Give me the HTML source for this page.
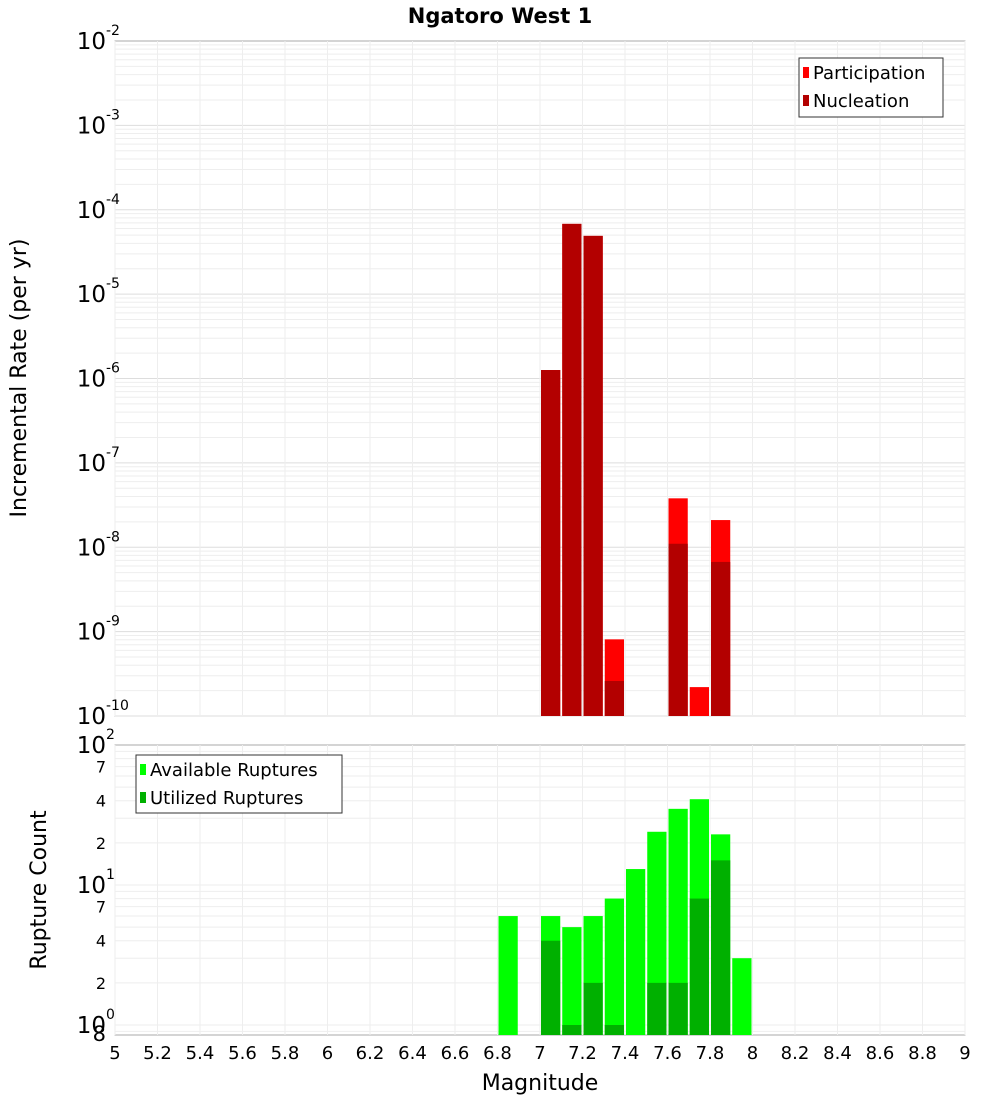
<!DOCTYPE html>
<html><head><meta charset="utf-8"><style>
body{margin:0;background:#fff;font-family:"Liberation Sans","DejaVu Sans",sans-serif}
svg text{font-family:"DejaVu Sans","Liberation Sans",sans-serif}
</style></head><body>
<svg id="chart" width="1000" height="1100" xmlns="http://www.w3.org/2000/svg">
<text x="500" y="23" text-anchor="middle" font-size="21" font-weight="bold">Ngatoro West 1</text>
<g id="topG"></g><g id="botG"></g>
<text transform="translate(26,378) rotate(-90)" text-anchor="middle" font-size="22">Incremental Rate (per yr)</text>
<text transform="translate(46,890) rotate(-90)" text-anchor="middle" font-size="22">Rupture Count</text>
<text x="540" y="1090" text-anchor="middle" font-size="22">Magnitude</text>
</svg>
<script>
const mags=[7.0,7.1,7.2,7.3,7.6,7.7,7.8];
const participation=[1.26e-6,6.8e-5,4.9e-5,8.1e-10,3.8e-8,2.2e-10,2.1e-8];
const nucleation=[1.26e-6,6.8e-5,4.9e-5,2.6e-10,1.1e-8,0,6.7e-9];
const countMags=[6.8,7.0,7.1,7.2,7.3,7.4,7.5,7.6,7.7,7.8,7.9];
const available=[6,6,5,6,8,13,24,35,41,23,3];
const utilized=[0,4,1,2,1,0,2,2,8,15,0];
const xTicks=[5,5.2,5.4,5.6,5.8,6,6.2,6.4,6.6,6.8,7,7.2,7.4,7.6,7.8,8,8.2,8.4,8.6,8.8,9];
const topDecades=[-2,-3,-4,-5,-6,-7,-8,-9,-10];
const botLabels=[[100,"10","2"],[70,"7"],[40,"4"],[20,"2"],[10,"10","1"],[7,"7"],[4,"4"],[2,"2"],[1,"10","0"],[0.85,"8"]];
const NS="http://www.w3.org/2000/svg";
const L=115,R=965;
const xs=m=>L+(m-5)*(R-L)/4;
const T1=41,B1=716,ty=v=>T1+(-2-Math.log10(v))*(B1-T1)/8;
const T2=745,B2=1035,by=v=>T2+(2-Math.log10(v))*140;
function el(p,t,a,txt){const e=document.createElementNS(NS,t);for(const k in a)e.setAttribute(k,a[k]);if(txt!==undefined)e.textContent=txt;p.appendChild(e);return e;}
const topG=document.getElementById('topG'),botG=document.getElementById('botG');
let r=el(topG,'rect',{x:L,y:T1,width:R-L,height:B1-T1,fill:'#fff',stroke:'#aaa'});


for(let d=-10;d<-2;d++)for(let k=1;k<10;k++){const y=ty(k*Math.pow(10,d));el(topG,'line',{x1:L,x2:R,y1:y,y2:y,stroke:k==1?'#ddd':'#eee','stroke-width':1});}
xTicks.forEach(m=>el(topG,'line',{x1:xs(m),x2:xs(m),y1:T1,y2:B1,stroke:'#eee'}));
topDecades.forEach(d=>{const y=ty(Math.pow(10,d));const g=el(topG,'g',{});


el(g,'text',{x:106,y:y+8,'text-anchor':'end','font-size':23},'10');
el(g,'text',{x:106,y:y-6,'font-size':14},String(d));});
mags.forEach((m,i)=>{const x=xs(m)+1,w=(R-L)/40-2;
let b=el(topG,'rect',{x:x,y:ty(participation[i]),width:w,height:B1-ty(participation[i]),fill:'#ff0000'});


if(nucleation[i]>0){b=el(topG,'rect',{x:x,y:ty(nucleation[i]),width:w,height:B1-ty(nucleation[i]),fill:'#b30000'});

}});
let lg=el(topG,'g',{});


el(lg,'rect',{x:799,y:58,width:144,height:59,fill:'#fff',stroke:'#333'});
el(lg,'rect',{x:803,y:67,width:6,height:11,fill:'#ff0000'});el(lg,'text',{x:813,y:79,'font-size':18},'Participation');
el(lg,'rect',{x:803,y:95,width:6,height:11,fill:'#b30000'});el(lg,'text',{x:813,y:107,'font-size':18},'Nucleation');
r=el(botG,'rect',{x:L,y:T2,width:R-L,height:B2-T2,fill:'#fff',stroke:'#aaa'});


for(let d=0;d<2;d++)for(let k=1;k<10;k++){const y=by(k*Math.pow(10,d));if(y<B2)el(botG,'line',{x1:L,x2:R,y1:y,y2:y,stroke:'#eee'});}
el(botG,'line',{x1:L,x2:R,y1:by(0.9),y2:by(0.9),stroke:'#eee'});
xTicks.forEach(m=>el(botG,'line',{x1:xs(m),x2:xs(m),y1:T2,y2:B2,stroke:'#eee'}));
botLabels.forEach(l=>{const y=by(l[0]);const g=el(botG,'g',{});


if(l.length==3){el(g,'text',{x:106,y:y+8,'text-anchor':'end','font-size':23},l[1]);el(g,'text',{x:106,y:y-6,'font-size':14},l[2]);}
else el(g,'text',{x:106,y:y+6,'text-anchor':'end','font-size':l[0]<1?21:16},l[1]);});
countMags.forEach((m,i)=>{const x=xs(m)+1,w=(R-L)/40-2;
let b=el(botG,'rect',{x:x,y:by(available[i]),width:w,height:B2-by(available[i]),fill:'#00ff00'});


if(utilized[i]>0){b=el(botG,'rect',{x:x,y:by(utilized[i]),width:w,height:B2-by(utilized[i]),fill:'#00b000'});

}});
lg=el(botG,'g',{});


el(lg,'rect',{x:136,y:755,width:206,height:58,fill:'#fff',stroke:'#333'});
el(lg,'rect',{x:140,y:764,width:6,height:11,fill:'#00ff00'});el(lg,'text',{x:150,y:776,'font-size':18},'Available Ruptures');
el(lg,'rect',{x:140,y:792,width:6,height:11,fill:'#00b000'});el(lg,'text',{x:150,y:804,'font-size':18},'Utilized Ruptures');
xTicks.forEach(m=>{const t=el(botG,'text',{x:xs(m),y:1059,'text-anchor':'middle','font-size':18},String(m));

});
</script>
</body></html>
